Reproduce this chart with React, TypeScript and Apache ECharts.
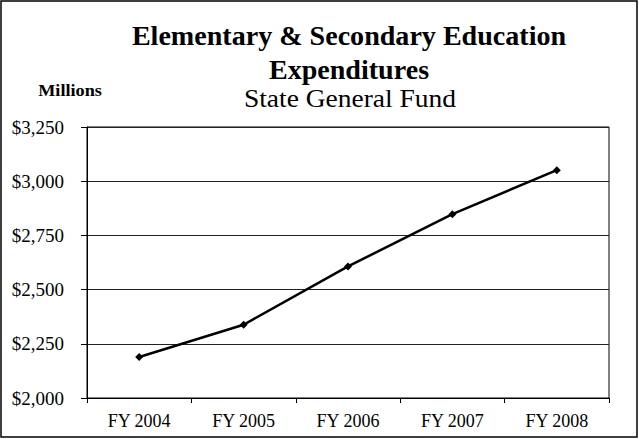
import React, { useEffect, useRef } from "react";
import * as echarts from "echarts";

const categories = ["FY 2004", "FY 2005", "FY 2006", "FY 2007", "FY 2008"];
const expenditures = [2189, 2338, 2607, 2848, 3051];
const titleLines = ["Elementary & Secondary Education", "Expenditures"];
const subtitle = "State General Fund";
const unitLabel = "Millions";

const FONT = "'Liberation Serif', 'Times New Roman', serif";

export default function App() {
  const ref = useRef<HTMLDivElement>(null);
  useEffect(() => {
    if (!ref.current) return;
    const chart = echarts.init(ref.current, null, { renderer: "svg" });
    chart.setOption({
      animation: false,
      backgroundColor: "#ffffff",
      textStyle: { fontFamily: FONT },
      graphic: [
        {
          type: "rect",
          shape: { x: 1, y: 1, width: 636, height: 436 },
          style: { fill: "none", stroke: "#000", lineWidth: 1.5 },
        },
        {
          type: "text",
          x: 349,
          y: 36,
          scaleX: 1.04,
          style: {
            text: titleLines[0],
            font: `bold 27px ${FONT}`,
            fill: "#000",
            textAlign: "center",
            textVerticalAlign: "middle",
          },
        },
        {
          type: "text",
          x: 349,
          y: 70,
          scaleX: 1.04,
          style: {
            text: titleLines[1],
            font: `bold 27px ${FONT}`,
            fill: "#000",
            textAlign: "center",
            textVerticalAlign: "middle",
          },
        },
        {
          type: "text",
          x: 350,
          y: 99,
          scaleX: 1.1,
          style: {
            text: subtitle,
            font: `25px ${FONT}`,
            fill: "#000",
            textAlign: "center",
            textVerticalAlign: "middle",
          },
        },
        {
          type: "text",
          x: 70,
          y: 90,
          scaleX: 1.07,
          style: {
            text: unitLabel,
            font: `bold 17px ${FONT}`,
            fill: "#000",
            textAlign: "center",
            textVerticalAlign: "middle",
          },
        },
      ],
      grid: {
        left: 87,
        right: 30,
        top: 127,
        bottom: 41,
        show: true,
        borderColor: "#000",
        borderWidth: 1,
        backgroundColor: "transparent",
      },
      xAxis: {
        type: "category",
        data: categories,
        boundaryGap: true,
        axisLine: { show: true, lineStyle: { color: "#000", width: 1 } },
        axisTick: { show: true, length: 5, inside: false, lineStyle: { color: "#000" } },
        axisLabel: { color: "#000", fontFamily: FONT, fontSize: 18, margin: 14 },
        splitLine: { show: false },
      },
      yAxis: {
        type: "value",
        min: 2000,
        max: 3250,
        interval: 250,
        axisLine: { show: true, lineStyle: { color: "#000", width: 1 } },
        axisTick: { show: true, length: 6, inside: false, lineStyle: { color: "#000" } },
        axisLabel: {
          color: "#000",
          fontFamily: FONT,
          fontSize: 19,
          margin: 23,
          formatter: (v: number) => "$" + v.toLocaleString("en-US"),
        },
        splitLine: { show: true, lineStyle: { color: "#222", width: 1 } },
      },
      series: [
        {
          type: "line",
          data: expenditures,
          symbol: "diamond",
          symbolSize: 8,
          lineStyle: { color: "#000", width: 2.5 },
          itemStyle: { color: "#000" },
        },
      ],
    });
    return () => chart.dispose();
  }, []);
  return (
    <div
      ref={ref}
      style={{ position: "fixed", left: 0, top: 0, width: 639, height: 439 }}
    />
  );
}
